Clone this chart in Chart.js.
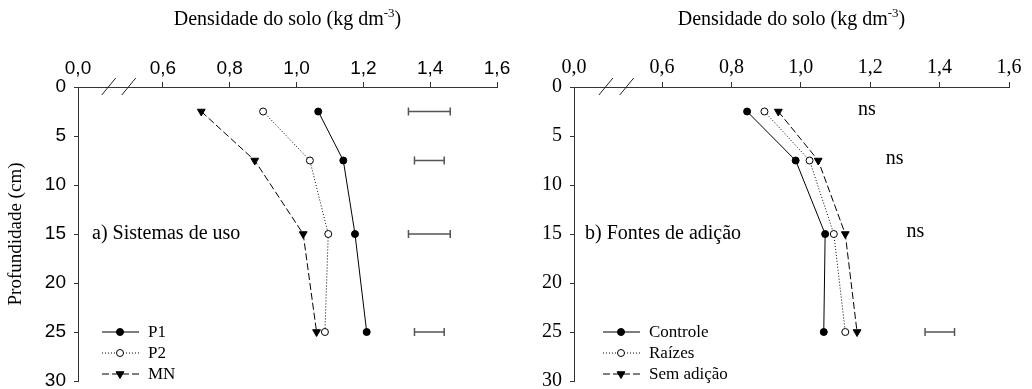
<!DOCTYPE html>
<html>
<head>
<meta charset="utf-8">
<script src="https://cdn.jsdelivr.net/npm/chart.js@4.4.0/dist/chart.umd.min.js"></script>
<style>
body{margin:0;background:#fff;}
canvas{position:absolute;top:0;}
</style>
</head>
<body>
<canvas id="chartA" width="520" height="389" style="left:0"></canvas>
<canvas id="chartB" width="512" height="389" style="left:520px"></canvas>
<script>
// profundidades (cm)
var depth = [2.5, 7.5, 15, 25];

// a) Sistemas de uso
var p1 = [1.065, 1.14, 1.175, 1.21];
var p2 = [0.90, 1.04, 1.095, 1.085];
var mn = [0.715, 0.875, 1.02, 1.06];
var dmsLoA = [1.335, 1.353, 1.335, 1.353];
var dmsHiA = [1.46, 1.442, 1.46, 1.442];

// b) Fontes de adicao
var controle = [0.845, 0.985, 1.07, 1.066];
var raizes = [0.895, 1.025, 1.095, 1.128];
var semAdicao = [0.935, 1.05, 1.128, 1.162];
var dmsDepthB = [25];
var dmsLoB = [1.358];
var dmsHiB = [1.443];
var nsDepth = [2.5, 7.5, 15];
var nsX = [1.19, 1.27, 1.33];

// eixo x quebrado: o inicio do eixo representa 0,0
var xMin = 0.346;
var xTickValues = [xMin, 0.6, 0.8, 1.0, 1.2, 1.4, 1.6];
var xTickLabels = ['0,0', '0,6', '0,8', '1,0', '1,2', '1,4', '1,6'];
var breakVals = [0.438, 0.498];

var SERIF = '"Liberation Serif", "Times New Roman", serif';
var SANS = '"Liberation Sans", Arial, sans-serif';

function pts(xs){
    return xs.map(function(v, i){ return {x: v, y: depth[i]}; });
}

function series(label, xs, style){
    return {
        label: label,
        data: pts(xs),
        showLine: true,
        borderColor: '#000',
        borderWidth: 1,
        borderDash: style.dash,
        pointStyle: style.point,
        pointRotation: style.rot || 0,
        pointRadius: style.radius,
        pointBackgroundColor: style.fill,
        pointBorderColor: '#000',
        pointBorderWidth: 1
    };
}

var solid = {dash: [], point: 'circle', radius: 3.5, fill: '#000'};
var dotted = {dash: [1, 2], point: 'circle', radius: 3.5, fill: '#fff'};
var dashed = {dash: [7, 3], point: 'triangle', rot: 180, radius: 4.5, fill: '#000'};

var extras = {
    id: 'extras',
    afterDraw: function(chart, args, o){
        var ctx = chart.ctx, a = chart.chartArea;
        var xs = chart.scales.x, ys = chart.scales.y;
        ctx.save();
        ctx.fillStyle = '#000';
        ctx.strokeStyle = '#000';

        // titulo do eixo x com expoente
        var t1 = 'Densidade do solo (kg dm', t2 = '-3', t3 = ')';
        ctx.font = '20px ' + SERIF;
        var w1 = ctx.measureText(t1).width, w3 = ctx.measureText(t3).width;
        ctx.font = '13px ' + SERIF;
        var w2 = ctx.measureText(t2).width;
        var tx = (a.left + a.right) / 2 - (w1 + w2 + w3) / 2;
        ctx.textBaseline = 'alphabetic';
        ctx.textAlign = 'left';
        ctx.font = '20px ' + SERIF;
        ctx.fillText(t1, tx, 25);
        ctx.font = '13px ' + SERIF;
        ctx.fillText(t2, tx + w1, 17);
        ctx.font = '20px ' + SERIF;
        ctx.fillText(t3, tx + w1 + w2, 25);

        // titulo do eixo y
        if (o.yTitle) {
            ctx.save();
            ctx.translate(16, 234);
            ctx.rotate(-Math.PI / 2);
            ctx.textAlign = 'center';
            ctx.textBaseline = 'middle';
            ctx.font = '19px ' + SERIF;
            ctx.fillText(o.yTitle, 0, 0);
            ctx.restore();
        }

        // quebra do eixo
        ctx.lineWidth = 1;
        ctx.strokeStyle = '#222';
        breakVals.forEach(function(v){
            var px = xs.getPixelForValue(v);
            ctx.beginPath();
            ctx.moveTo(px - 7, a.top + 8);
            ctx.lineTo(px + 7, a.top - 9);
            ctx.stroke();
        });

        // barras de DMS
        ctx.strokeStyle = '#555';
        ctx.lineWidth = 1.5;
        o.dmsDepth.forEach(function(d, i){
            var py = ys.getPixelForValue(d);
            var x1 = xs.getPixelForValue(o.dmsLo[i]), x2 = xs.getPixelForValue(o.dmsHi[i]);
            ctx.beginPath();
            ctx.moveTo(x1, py); ctx.lineTo(x2, py);
            ctx.moveTo(x1, py - 4); ctx.lineTo(x1, py + 4);
            ctx.moveTo(x2, py - 4); ctx.lineTo(x2, py + 4);
            ctx.stroke();
        });

        // textos
        ctx.fillStyle = '#000';
        ctx.textBaseline = 'middle';
        ctx.textAlign = 'left';
        ctx.font = '20px ' + SERIF;
        ctx.fillText(o.panel, a.left + o.panelDx, ys.getPixelForValue(15));
        if (o.ns) {
            ctx.textAlign = 'center';
            nsDepth.forEach(function(d, i){
                ctx.fillText('ns', xs.getPixelForValue(nsX[i]), ys.getPixelForValue(d) - 2);
            });
        }

        // legenda
        ctx.font = '17px ' + SERIF;
        ctx.textAlign = 'left';
        chart.data.datasets.forEach(function(ds, i){
            var ly = ys.getPixelForValue(25) + i * 21;
            var lx = a.left + o.legDx;
            ctx.strokeStyle = '#000';
            ctx.lineWidth = 1;
            ctx.setLineDash(ds.borderDash);
            ctx.beginPath();
            ctx.moveTo(lx, ly); ctx.lineTo(lx + 37, ly);
            ctx.stroke();
            ctx.setLineDash([]);
            ctx.fillStyle = ds.pointBackgroundColor;
            Chart.helpers.drawPoint(ctx, {
                pointStyle: ds.pointStyle, radius: ds.pointRadius,
                rotation: ds.pointRotation, borderWidth: 1
            }, lx + 18, ly);
            ctx.fillStyle = '#000';
            ctx.fillText(ds.label, lx + 46, ly + 1);
        });
        ctx.restore();
    }
};

function makeChart(id, datasets, tickFont, opts, yWidth){
    return new Chart(document.getElementById(id), {
        type: 'scatter',
        data: {datasets: datasets},
        plugins: [extras],
        options: {
            responsive: false,
            animation: false,
            layout: {padding: {left: 0, top: 0, right: 23, bottom: 8}},
            plugins: {legend: {display: false}, tooltip: {enabled: false}, extras: opts},
            scales: {
                x: {
                    type: 'linear',
                    position: 'top',
                    min: xMin,
                    max: 1.6,
                    afterBuildTicks: function(scale){
                        scale.ticks = xTickValues.map(function(v){ return {value: v}; });
                    },
                    afterFit: function(scale){
                        scale.height = 87;
                        scale.paddingLeft = 0;
                        scale.paddingRight = 0;
                    },
                    ticks: {
                        autoSkip: false,
                        maxRotation: 0,
                        padding: 2,
                        color: '#000',
                        font: tickFont,
                        callback: function(value){
                            return xTickLabels[xTickValues.indexOf(value)];
                        }
                    },
                    grid: {
                        drawOnChartArea: false,
                        tickLength: 5,
                        color: function(c){ return c.tick && c.tick.value === xMin ? 'rgba(0,0,0,0)' : '#333'; }
                    },
                    border: {color: '#333', width: 1}
                },
                y: {
                    type: 'linear',
                    reverse: true,
                    min: 0,
                    max: 30,
                    afterFit: function(scale){
                        scale.width = yWidth;
                        scale.paddingTop = 0;
                        scale.paddingBottom = 0;
                    },
                    ticks: {stepSize: 5, padding: 8, color: '#000', font: tickFont},
                    grid: {drawOnChartArea: false, tickLength: 4, color: '#333'},
                    border: {color: '#333', width: 1}
                }
            }
        }
    });
}

makeChart('chartA', [
    series('P1', p1, solid),
    series('P2', p2, dotted),
    series('MN', mn, dashed)
], {family: SANS, size: 19}, {
    yTitle: 'Profundidade (cm)',
    panel: 'a) Sistemas de uso', panelDx: 14,
    dmsDepth: depth, dmsLo: dmsLoA, dmsHi: dmsHiA,
    ns: false, legDx: 24
}, 78);

makeChart('chartB', [
    series('Controle', controle, solid),
    series('Raízes', raizes, dotted),
    series('Sem adição', semAdicao, dashed)
], {family: SERIF, size: 20}, {
    panel: 'b) Fontes de adição', panelDx: 11,
    dmsDepth: dmsDepthB, dmsLo: dmsLoB, dmsHi: dmsHiB,
    ns: true, legDx: 29
}, 54);
</script>
</body>
</html>
